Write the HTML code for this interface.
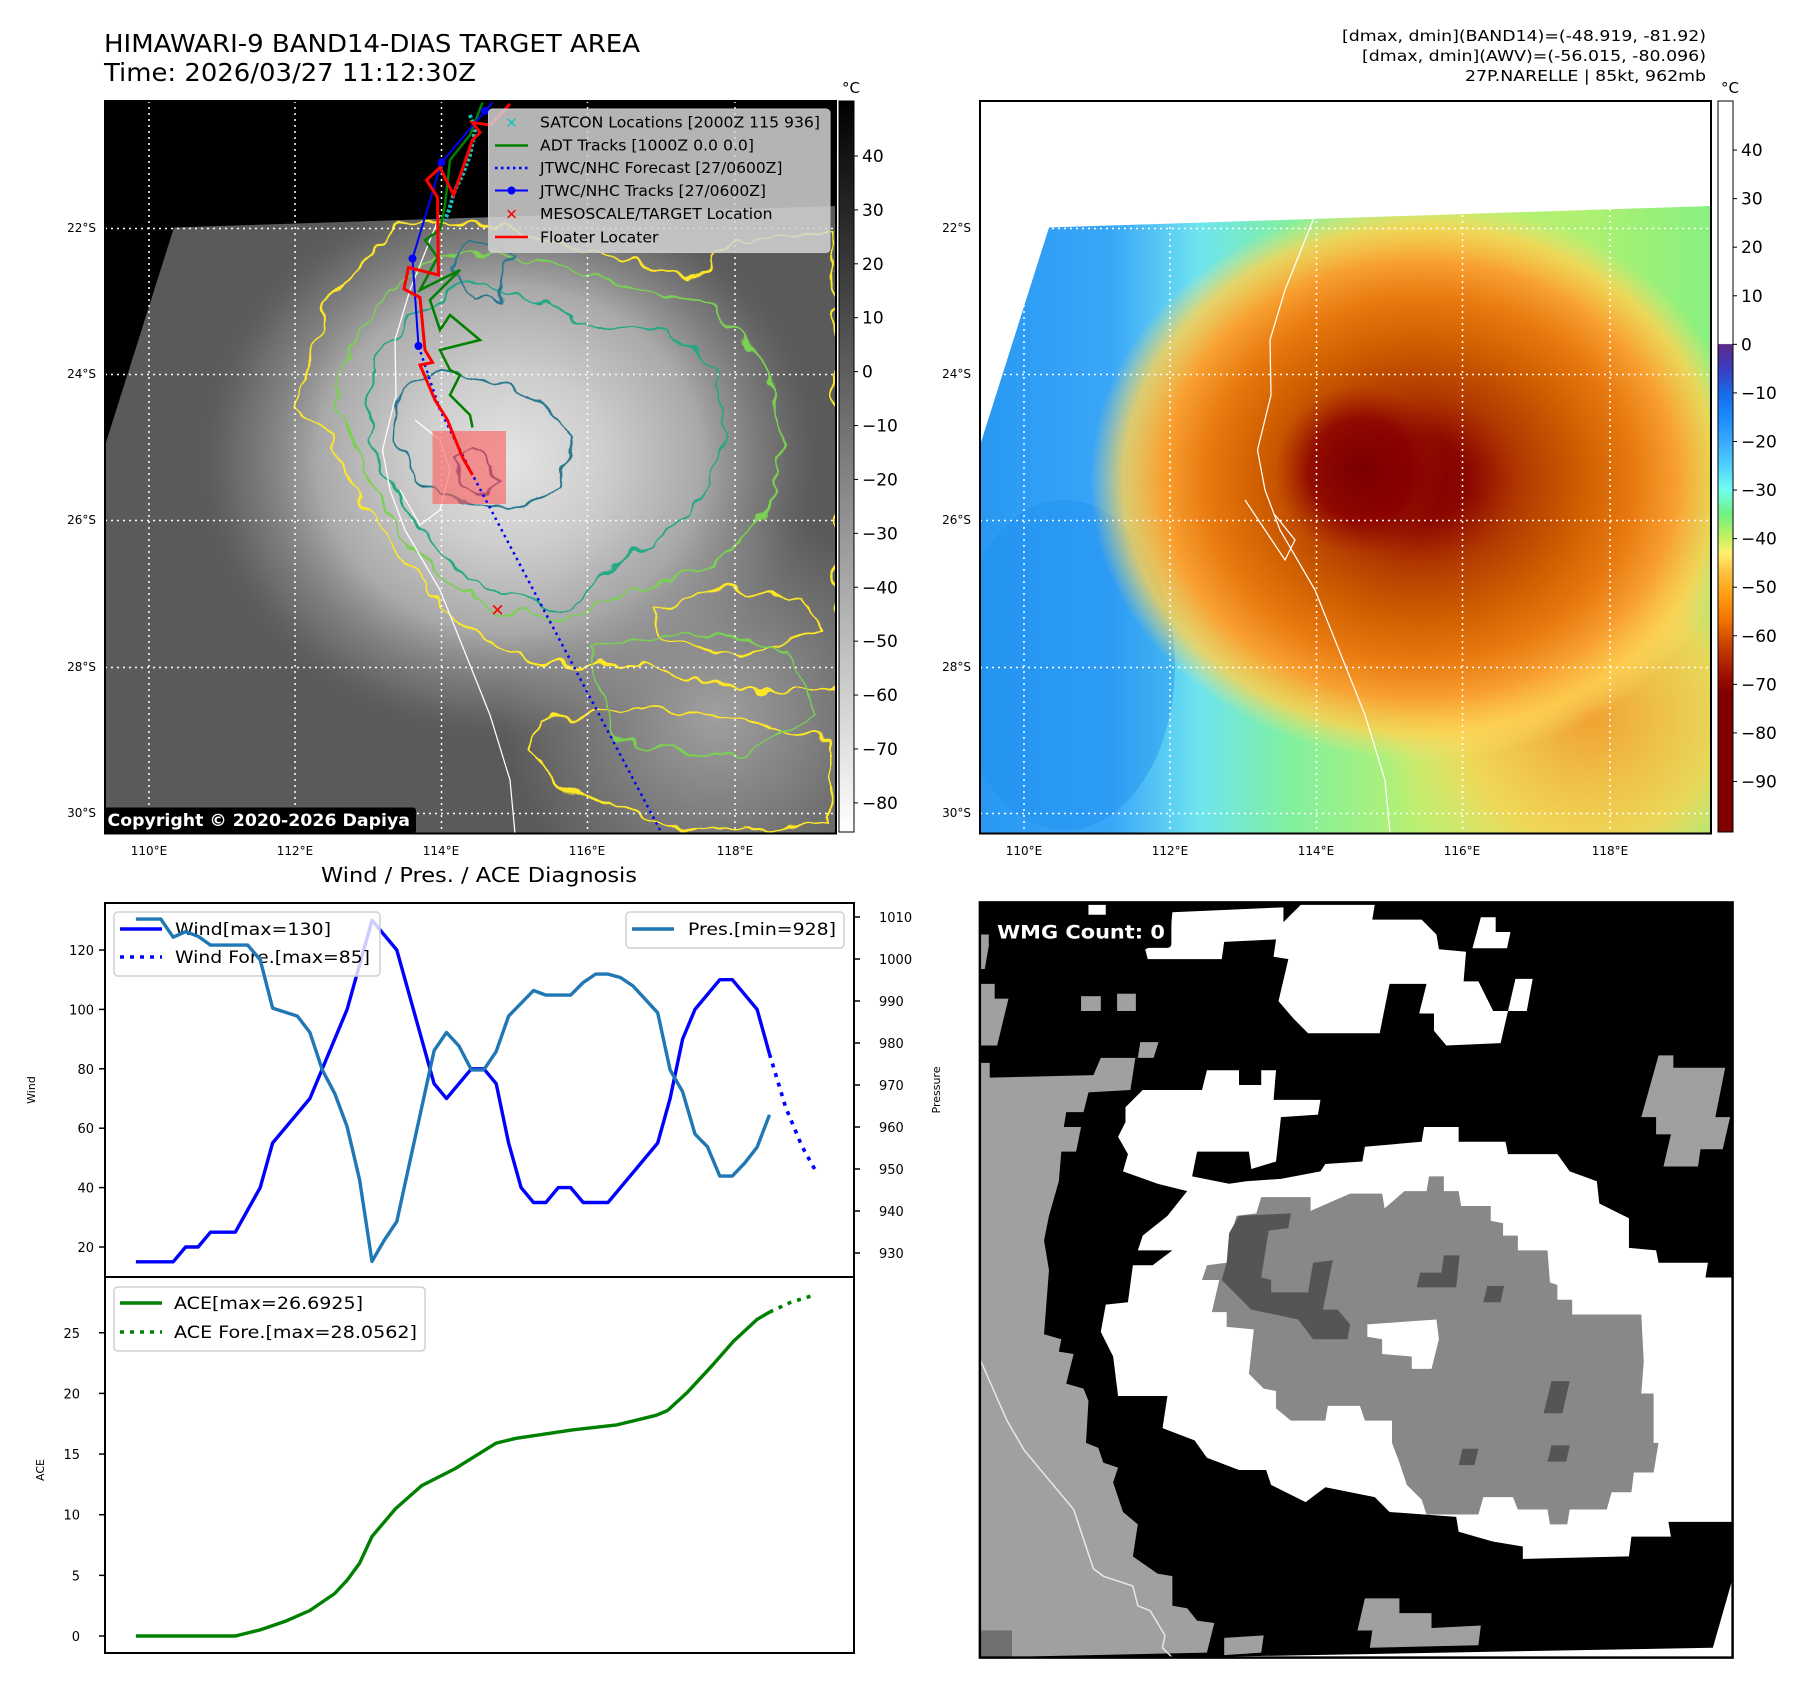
<!DOCTYPE html>
<html><head><meta charset="utf-8"><style>
html,body{margin:0;padding:0;background:#fff}
#root{position:relative;width:1797px;height:1690px;overflow:hidden;font-family:"DejaVu Sans","Liberation Sans",sans-serif}
</style></head><body>
<div id="root">
<svg id="fig" width="1797" height="1690" viewBox="0 0 1797 1690" xmlns="http://www.w3.org/2000/svg" font-family="DejaVu Sans, Liberation Sans, sans-serif">
<defs>
  <linearGradient id="cbGray" x1="0" y1="0" x2="0" y2="1"><stop offset="0" stop-color="#000"/><stop offset="1" stop-color="#fff"/></linearGradient>
  <linearGradient id="cbColor" x1="0" y1="0" x2="0" y2="1">
    <stop offset="0" stop-color="#fff"/><stop offset="0.332" stop-color="#fff"/>
    <stop offset="0.333" stop-color="#5b2a86"/><stop offset="0.366" stop-color="#3c3cc0"/>
    <stop offset="0.40" stop-color="#1a6ae8"/><stop offset="0.433" stop-color="#1a8cff"/>
    <stop offset="0.466" stop-color="#3aa8ff"/><stop offset="0.499" stop-color="#50d0ff"/>
    <stop offset="0.532" stop-color="#70fff0"/><stop offset="0.565" stop-color="#70f080"/>
    <stop offset="0.599" stop-color="#c8f060"/><stop offset="0.619" stop-color="#fff070"/>
    <stop offset="0.645" stop-color="#ffc040"/><stop offset="0.678" stop-color="#ff9a10"/>
    <stop offset="0.712" stop-color="#f07000"/><stop offset="0.745" stop-color="#c84000"/>
    <stop offset="0.785" stop-color="#a01000"/><stop offset="0.811" stop-color="#800000"/>
    <stop offset="1" stop-color="#800000"/>
  </linearGradient>
  <radialGradient id="stormGray" cx="840" cy="740" r="640" gradientUnits="userSpaceOnUse" gradientTransform="translate(840 740) scale(1 0.9) translate(-840 -740)">
    <stop offset="0" stop-color="#e4e4e4"/><stop offset="0.3" stop-color="#cdcdcd"/>
    <stop offset="0.6" stop-color="#a9a9a9"/><stop offset="0.85" stop-color="#7a7a7a" stop-opacity="0.6"/>
    <stop offset="1" stop-color="#5a5a5a" stop-opacity="0"/>
  </radialGradient>
  <radialGradient id="seGray" cx="1250" cy="1250" r="420" gradientUnits="userSpaceOnUse">
    <stop offset="0" stop-color="#a0a0a0"/><stop offset="1" stop-color="#a0a0a0" stop-opacity="0"/>
  </radialGradient>
  <linearGradient id="irBase" x1="30" y1="0" x2="1492" y2="0" gradientUnits="userSpaceOnUse">
    <stop offset="0" stop-color="#2898f2"/><stop offset="0.18" stop-color="#3aa6f8"/>
    <stop offset="0.3" stop-color="#6ee4f0"/><stop offset="0.42" stop-color="#80f0a0"/>
    <stop offset="0.6" stop-color="#b8f070"/><stop offset="0.82" stop-color="#b0f070"/>
    <stop offset="1" stop-color="#88f080"/>
  </linearGradient>
  <radialGradient id="irStorm" cx="910" cy="780" r="660" gradientUnits="userSpaceOnUse" gradientTransform="translate(910 780) scale(1 0.85) translate(-910 -780)">
    <stop offset="0" stop-color="#800000"/><stop offset="0.15" stop-color="#8a0800"/>
    <stop offset="0.3" stop-color="#b03800"/><stop offset="0.5" stop-color="#d06000"/>
    <stop offset="0.65" stop-color="#e87a10"/><stop offset="0.78" stop-color="#f8a030"/>
    <stop offset="0.9" stop-color="#ffd050" stop-opacity="0.8"/>
    <stop offset="1" stop-color="#ffe070" stop-opacity="0"/>
  </radialGradient>
  <radialGradient id="irSE" cx="1250" cy="1250" r="420" gradientUnits="userSpaceOnUse">
    <stop offset="0" stop-color="#f0a030"/><stop offset="0.6" stop-color="#ffd050" stop-opacity="0.8"/><stop offset="1" stop-color="#ffe070" stop-opacity="0"/>
  </radialGradient>
  <radialGradient id="irCore" cx="790" cy="760" r="170" gradientUnits="userSpaceOnUse">
    <stop offset="0" stop-color="#7a0000"/><stop offset="0.6" stop-color="#8a0000" stop-opacity="0.8"/><stop offset="1" stop-color="#a02000" stop-opacity="0"/>
  </radialGradient>
  <filter id="wiggle" x="-5%" y="-5%" width="110%" height="110%">
    <feTurbulence type="fractalNoise" baseFrequency="0.02" numOctaves="2" seed="3"/>
    <feDisplacementMap in="SourceGraphic" scale="40" xChannelSelector="R" yChannelSelector="G"/>
  </filter>
  <clipPath id="frameClip"><rect x="30" y="22" width="1462" height="1465"/></clipPath>
</defs>

<text x="104" y="52" font-size="25" textLength="536" lengthAdjust="spacingAndGlyphs">HIMAWARI-9 BAND14-DIAS TARGET AREA</text>
<text x="104" y="81" font-size="25" textLength="372" lengthAdjust="spacingAndGlyphs">Time: 2026/03/27 11:12:30Z</text>
<g font-size="15" text-anchor="end">
  <text x="1706" y="41" textLength="364" lengthAdjust="spacingAndGlyphs">[dmax, dmin](BAND14)=(-48.919, -81.92)</text>
  <text x="1706" y="61" textLength="344" lengthAdjust="spacingAndGlyphs">[dmax, dmin](AWV)=(-56.015, -80.096)</text>
  <text x="1706" y="81" textLength="241" lengthAdjust="spacingAndGlyphs">27P.NARELLE | 85kt, 962mb</text>
</g>

<svg x="90" y="90" width="780" height="780" viewBox="0 0 1560 1560">
  <g clip-path="url(#frameClip)">
    <rect x="30" y="22" width="1462" height="1465" fill="#000"/>
    <polygon points="168,275 1492,232 1492,1487 30,1487 30,711" fill="#5a5a5a"/>
    <g clip-path="url(#frameClip)">
      <polygon points="168,275 1492,232 1492,1487 30,1487 30,711" fill="url(#stormGray)"/>
      <polygon points="168,275 1492,232 1492,1487 30,1487 30,711" fill="url(#seGray)"/>
    </g>
    <g fill="none" stroke-width="4" filter="url(#wiggle)">
      <polygon stroke="#fde725" points="470,430 560,330 620,270 760,260 900,300 1050,330 1200,380 1300,300 1480,280 1495,650 1495,1200 1300,1200 1100,1150 900,1150 750,1080 650,960 560,850 480,700 410,640 440,540"/>
      <polygon stroke="#fde725" points="900,1260 1100,1230 1300,1260 1480,1300 1480,1470 1200,1480 950,1400 880,1320"/>
      <polygon stroke="#fde725" points="1120,1040 1250,1000 1420,1010 1460,1080 1300,1130 1140,1100"/>
      <polygon stroke="#7ad151" points="520,520 600,400 700,330 900,340 1100,400 1250,440 1350,550 1390,700 1350,850 1250,950 1100,1000 950,1060 800,1040 680,950 600,850 530,720 490,620"/>
      <polygon stroke="#7ad151" points="1000,1120 1200,1080 1400,1120 1450,1250 1300,1330 1050,1300"/>
      <polygon stroke="#22a884" points="560,560 640,450 760,380 900,420 1000,470 1150,470 1250,560 1270,700 1200,850 1050,950 950,1040 800,1000 690,920 620,820 560,700"/>
      <polygon stroke="#2a788e" points="620,600 700,560 800,580 900,620 960,700 940,790 880,820 820,830 730,820 650,780 610,700"/>
      <polygon stroke="#2a788e" points="760,300 840,330 820,420 760,420 730,350"/>
      <polygon stroke="#414487" points="730,740 760,728 800,752 822,790 790,802 750,792"/>
    </g>
    <g fill="none" stroke="#fff" stroke-width="2.5">
      <polyline points="700,250 680,300 640,400 610,500 612,610 585,720 600,800 630,880 700,1000 760,1150 800,1250 840,1380 850,1487"/>
      <polyline points="650,660 700,700 720,760 700,840 660,870 620,800"/>
    </g>
    <g stroke="#fff" stroke-width="3" stroke-dasharray="4 8">
      <line x1="118" y1="22" x2="118" y2="1487"/><line x1="410" y1="22" x2="410" y2="1487"/><line x1="703" y1="22" x2="703" y2="1487"/><line x1="995" y1="22" x2="995" y2="1487"/><line x1="1290" y1="22" x2="1290" y2="1487"/>
      <line x1="30" y1="277" x2="1492" y2="277"/><line x1="30" y1="569" x2="1492" y2="569"/><line x1="30" y1="861" x2="1492" y2="861"/><line x1="30" y1="1155" x2="1492" y2="1155"/><line x1="30" y1="1447" x2="1492" y2="1447"/>
    </g>
    <rect x="685" y="682" width="147" height="146" fill="#ff5a5a" opacity="0.6"/>
    <polyline points="760,50 770,80 760,130 745,170 730,200 718,240 710,260" fill="none" stroke="#17c3c3" stroke-width="8" stroke-dasharray="6 4"/>
    <polyline points="785,25 760,90 720,140 710,230 700,280 670,300 695,335 660,400 740,360 680,420 700,480 720,450 780,500 700,520 720,560 740,570 720,610 760,650 765,675" fill="none" stroke="#008000" stroke-width="5"/>
    <polyline points="657,512 700,640 760,760 1140,1480" fill="none" stroke="#0000ff" stroke-width="5" stroke-dasharray="5 8"/>
    <polyline points="805,25 790,42 703,145 645,337 657,512" fill="none" stroke="#0000ff" stroke-width="4"/>
    <g fill="#0000ff"><circle cx="790" cy="42" r="8"/><circle cx="703" cy="145" r="8"/><circle cx="645" cy="337" r="8"/><circle cx="657" cy="512" r="8"/></g>
    <polyline points="840,28 800,70 765,65 780,85 765,100 727,210 700,155 673,180 695,215 697,370 637,355 628,398 660,415 670,520 685,545 660,550 690,620 715,660 745,735 765,770" fill="none" stroke="#ff0000" stroke-width="6"/>
    <text x="815" y="1052" font-size="34" font-weight="bold" fill="#ff0000" text-anchor="middle">✕</text>
    <g>
      <rect x="797" y="38" width="683" height="287" rx="8" fill="#d4d4d4" fill-opacity="0.85" stroke="#c8c8c8" stroke-width="2"/>
      <text x="843" y="76" font-size="30" fill="#17c3c3" font-weight="bold" text-anchor="middle">✕</text>
      <line x1="810" y1="111" x2="876" y2="111" stroke="#008000" stroke-width="5"/>
      <line x1="810" y1="156" x2="876" y2="156" stroke="#0000ff" stroke-width="5" stroke-dasharray="5 7"/>
      <line x1="810" y1="201" x2="876" y2="201" stroke="#0000ff" stroke-width="4"/><circle cx="843" cy="201" r="8" fill="#0000ff"/>
      <text x="843" y="259" font-size="30" fill="#ff0000" font-weight="bold" text-anchor="middle">✕</text>
      <line x1="810" y1="294" x2="876" y2="294" stroke="#ff0000" stroke-width="5"/>
      <g font-size="30" fill="#000">
        <text x="900" y="75" textLength="560" lengthAdjust="spacingAndGlyphs">SATCON Locations [2000Z 115 936]</text>
        <text x="900" y="121" textLength="428" lengthAdjust="spacingAndGlyphs">ADT Tracks [1000Z 0.0 0.0]</text>
        <text x="900" y="166" textLength="485" lengthAdjust="spacingAndGlyphs">JTWC/NHC Forecast [27/0600Z]</text>
        <text x="900" y="212" textLength="452" lengthAdjust="spacingAndGlyphs">JTWC/NHC Tracks [27/0600Z]</text>
        <text x="900" y="258" textLength="465" lengthAdjust="spacingAndGlyphs">MESOSCALE/TARGET Location</text>
        <text x="900" y="305" textLength="237" lengthAdjust="spacingAndGlyphs">Floater Locater</text>
      </g>
    </g>
    <g>
      <rect x="25" y="1435" width="627" height="52" rx="6" fill="#000"/>
      <text x="35" y="1472" font-size="33" font-weight="bold" fill="#fff" textLength="605" lengthAdjust="spacingAndGlyphs">Copyright © 2020-2026 Dapiya</text>
    </g>
  </g>
  <rect x="30" y="22" width="1462" height="1465" fill="none" stroke="#000" stroke-width="4"/>
</svg>

<svg x="965" y="90" width="780" height="780" viewBox="0 0 1560 1560">
  <g clip-path="url(#frameClip)">
    <rect x="30" y="22" width="1462" height="1465" fill="#fff"/>
    <clipPath id="dataClip"><polygon points="168,275 1492,232 1492,1487 30,1487 30,711"/></clipPath>
    <g clip-path="url(#dataClip)">
      <rect x="30" y="22" width="1462" height="1465" fill="url(#irBase)"/>
      <ellipse cx="200" cy="1150" rx="220" ry="330" fill="#1e90f0" opacity="0.45"/>
      <rect x="30" y="22" width="1462" height="1465" fill="url(#irSE)"/>
      <rect x="30" y="22" width="1462" height="1465" fill="url(#irStorm)"/>
      <rect x="30" y="22" width="1462" height="1465" fill="url(#irCore)"/>
    </g>
    <g fill="none" stroke="#fff" stroke-width="2.5">
      <polyline points="700,250 680,300 640,400 610,500 612,610 585,720 600,800 630,880 700,1000 760,1150 800,1250 840,1380 850,1487"/>
      <polyline points="560,820 600,880 640,940 660,900 620,850"/>
    </g>
    <g stroke="#fff" stroke-width="3" stroke-dasharray="4 8">
      <line x1="118" y1="22" x2="118" y2="1487"/><line x1="410" y1="22" x2="410" y2="1487"/><line x1="703" y1="22" x2="703" y2="1487"/><line x1="995" y1="22" x2="995" y2="1487"/><line x1="1290" y1="22" x2="1290" y2="1487"/>
      <line x1="30" y1="277" x2="1492" y2="277"/><line x1="30" y1="569" x2="1492" y2="569"/><line x1="30" y1="861" x2="1492" y2="861"/><line x1="30" y1="1155" x2="1492" y2="1155"/><line x1="30" y1="1447" x2="1492" y2="1447"/>
    </g>
  </g>
  <rect x="30" y="22" width="1462" height="1465" fill="none" stroke="#000" stroke-width="4"/>
</svg>

<g font-size="12" text-anchor="end" fill="#000">
  <text x="96" y="232">22°S</text><text x="96" y="378">24°S</text><text x="96" y="524">26°S</text><text x="96" y="671">28°S</text><text x="96" y="817">30°S</text>
  <text x="971" y="232">22°S</text><text x="971" y="378">24°S</text><text x="971" y="524">26°S</text><text x="971" y="671">28°S</text><text x="971" y="817">30°S</text>
</g>
<g font-size="12" text-anchor="middle" fill="#000">
  <text x="149" y="855">110°E</text><text x="295" y="855">112°E</text><text x="441" y="855">114°E</text><text x="587" y="855">116°E</text><text x="735" y="855">118°E</text>
  <text x="1024" y="855">110°E</text><text x="1170" y="855">112°E</text><text x="1316" y="855">114°E</text><text x="1462" y="855">116°E</text><text x="1610" y="855">118°E</text>
</g>

<rect x="839" y="101" width="15" height="731" fill="url(#cbGray)" stroke="#000" stroke-width="1"/>
<rect x="1718" y="101" width="15" height="731" fill="url(#cbColor)" stroke="#000" stroke-width="1"/>
<text x="851" y="93" font-size="15" text-anchor="middle">°C</text>
<text x="1730" y="93" font-size="15" text-anchor="middle">°C</text>
<g id="cbTicks" font-size="17" fill="#000"></g>

<text x="479" y="882" font-size="20" text-anchor="middle" textLength="316" lengthAdjust="spacingAndGlyphs">Wind / Pres. / ACE Diagnosis</text>
<g id="chart"></g>
<rect x="105" y="903" width="749" height="374" fill="none" stroke="#000" stroke-width="2"/>
<rect x="105" y="1277" width="749" height="376" fill="none" stroke="#000" stroke-width="2"/>

<svg x="970" y="895" width="770" height="770" viewBox="0 0 1560 1560">
  <rect x="20" y="15" width="1525" height="1530" fill="#000"/>
  <polygon points="410,1545 1505,1525 1545,1385 1545,1545" fill="#fff"/>
  <g fill="#a0a0a0">
    <polygon points="20,340 40,340 40,370 250,365 265,330 335,330 325,395 240,400 230,440 195,440 190,470 225,470 215,520 185,520 180,580 160,650 150,700 160,760 150,890 185,900 180,925 210,930 195,990 230,1000 240,1025 235,1110 260,1120 270,1150 300,1160 290,1190 310,1250 340,1275 330,1340 380,1375 410,1380 410,1440 440,1445 460,1470 495,1475 480,1535 20,1545"/>
    <polygon points="20,180 50,180 50,210 78,210 55,305 20,305"/>
    <polygon points="20,80 42,80 30,150 20,150"/>
    <rect x="225" y="205" width="40" height="30"/><rect x="298" y="200" width="38" height="35"/>
    <polygon points="345,298 382,298 372,330 340,330"/>
    <polygon points="1395,325 1425,325 1425,350 1530,350 1510,450 1540,450 1525,515 1480,515 1475,550 1405,550 1420,485 1390,485 1390,450 1360,450"/>
    <polygon points="800,1425 870,1425 870,1455 935,1455 935,1485 1035,1480 1030,1520 810,1525 815,1490 785,1490"/>
    <polygon points="515,1505 595,1500 590,1535 515,1540"/>
    <polygon points="1415,1175 1490,1170 1480,1205 1408,1205"/>
  </g>
  <rect x="20" y="1490" width="65" height="55" fill="#707070"/>
  <g fill="#fff">
    <polygon points="315,430 350,395 470,395 480,355 545,355 545,385 590,385 590,355 620,355 615,415 710,415 705,445 630,450 620,540 570,555 565,520 460,520 450,570 525,585 560,580 630,575 710,560 720,545 795,540 800,510 915,500 920,470 990,470 990,500 1085,500 1090,525 1190,525 1215,560 1270,580 1275,625 1335,655 1335,715 1390,720 1395,745 1495,745 1490,775 1545,775 1545,1270 1415,1270 1420,1300 1340,1300 1335,1340 1120,1345 1120,1320 1060,1310 990,1290 985,1260 920,1255 850,1250 820,1220 720,1200 680,1230 610,1195 600,1165 545,1165 480,1140 455,1105 390,1080 400,1015 300,1015 290,935 265,885 275,830 320,825 330,750 370,750 410,720 340,720 350,690 400,650 440,600 380,585 310,560 320,525 300,490 315,460"/>
    <polygon points="410,35 635,25 635,55 670,20 820,20 815,50 915,50 945,80 950,110 1005,115 1000,175 1030,175 1060,235 1090,235 1075,300 965,305 940,275 940,240 910,240 925,180 850,180 830,280 685,280 655,250 625,215 645,130 615,125 620,90 515,95 510,130 360,130 355,110 405,90"/>
    <polygon points="1035,45 1065,45 1065,75 1095,75 1088,108 1018,108"/>
    <polygon points="1105,170 1140,170 1128,235 1090,235"/>
    <rect x="240" y="20" width="35" height="20"/>
  </g>
  <g>
    <polygon fill="#888" points="590,612 690,612 690,640 770,605 835,605 840,635 880,600 925,600 930,570 960,570 960,600 990,600 995,630 1055,630 1055,660 1080,665 1080,690 1110,690 1110,720 1170,720 1175,785 1190,790 1190,820 1220,820 1220,850 1360,850 1365,945 1360,1010 1385,1010 1385,1110 1395,1110 1385,1170 1345,1170 1340,1210 1300,1210 1290,1245 1215,1245 1210,1275 1175,1275 1170,1245 1110,1245 1100,1220 1040,1220 1030,1255 925,1255 915,1225 885,1195 870,1150 855,1110 855,1065 800,1065 790,1035 725,1035 720,1065 650,1065 620,1040 620,1005 595,1000 565,970 575,880 520,875 520,845 490,845 505,780 470,780 480,750 520,745 530,685 540,650 580,645"/>
    <polygon fill="#fff" points="805,870 945,860 950,900 935,960 895,960 895,935 835,930 835,900 805,895"/>
    <polygon fill="#555" points="545,650 650,645 645,675 605,680 590,775 610,780 610,805 685,805 695,745 735,740 715,840 745,840 770,870 765,900 695,900 665,860 570,840 540,810 510,780 520,745 525,685"/>
    <g fill="#555"><polygon points="960,730 992,730 985,795 905,795 912,765 955,765"/><polygon points="1048,792 1082,792 1075,825 1040,825"/><polygon points="1178,985 1215,985 1200,1050 1162,1050"/><polygon points="998,1122 1030,1122 1022,1155 990,1155"/><polygon points="1178,1115 1215,1115 1208,1148 1170,1148"/></g>
  </g>
  <polyline points="20,940 75,1065 110,1125 210,1245 250,1365 270,1380 330,1400 340,1440 365,1450 395,1500 390,1525 410,1545" fill="none" stroke="#e8e8e8" stroke-width="3"/>
  <rect x="38" y="45" width="370" height="62" rx="8" fill="#000"/>
  <text x="55" y="88" font-size="38" font-weight="bold" fill="#fff" textLength="340" lengthAdjust="spacingAndGlyphs">WMG Count: 0</text>
  <rect x="20" y="15" width="1525" height="1530" fill="none" stroke="#000" stroke-width="5"/>
</svg>
</svg>
</div>
<script>
const windT = [0,3,4,5,6,8,10,11,14,17,19,21,24,25,27,28,29,30,31,32,33,34,35,36,38,42,43,44,45,47,48,50,51];
const windV = [15,15,20,20,25,25,40,55,70,100,130,120,75,70,80,80,75,55,40,35,35,40,40,35,35,55,70,90,100,110,110,100,85];
const windForeT = [51,52.3,53.6,54.8];
const windForeV = [85,67,54,45];
const presT = [0,2,3,4,5,6,9,10,11,13,14,15,16,17,18,19,20,21,24,25,26,27,28,29,30,32,33,35,36,37,38,39,40,42,43,44,45,46,47,48,49,50,51];
const presV = [1009.5,1009.5,1005.2,1006.5,1005.4,1003.3,1003.3,999.8,988.3,986.4,982.5,973.6,968,960.1,947.4,928,933.1,937.5,978.2,982.5,979.3,973.6,973.6,978,986.4,992.5,991.4,991.4,994.4,996.4,996.4,995.6,993.6,987.2,973.6,968.4,958.3,955.3,948.3,948.3,951.4,955.2,962.9];
const aceT = [0,8,10,12,14,16,17,18,19,20.9,23,25.7,29,30.6,35.2,38.7,41.9,42.8,44.4,46.3,48.1,50,51];
const aceV = [0,0,0.5,1.2,2.1,3.5,4.6,6.0,8.2,10.5,12.4,13.8,15.9,16.3,17.0,17.4,18.2,18.6,20.1,22.2,24.3,26.1,26.7];
const aceForeT = [51,52.7,54.4];
const aceForeV = [26.7,27.5,28.05];
const windTicks = [20,40,60,80,100,120];
const presTicks = [930,940,950,960,970,980,990,1000,1010];
const aceTicks = [0,5,10,15,20,25];
const btTicks = [40,30,20,10,0,-10,-20,-30,-40,-50,-60,-70,-80];
const irTicks = [40,30,20,10,0,-10,-20,-30,-40,-50,-60,-70,-80,-90];

const X0=105, X1=854, TMIN=-2.49, TMAX=57.8;
function xs(t){return X0+(t-TMIN)/(TMAX-TMIN)*(X1-X0);}
function yWind(v){return 950+(120-v)*2.97;}
function yPres(p){return 917+(1010-p)*4.2;}
function yAce(a){return 1636-a*12.13;}
function yBt(v){return 101+(50.2-v)/(50.2+85.4)*731;}
function yIr(v){return 101+(50.1-v)/(50.1+100.4)*731;}

const NS='http://www.w3.org/2000/svg';
const chart=document.getElementById('chart');
function mk(tag,attrs,parent){const e=document.createElementNS(NS,tag);for(const k in attrs)e.setAttribute(k,attrs[k]);(parent||chart).appendChild(e);return e;}
function pts(T,V,f){return T.map((t,i)=>xs(t).toFixed(1)+','+f(V[i]).toFixed(1)).join(' ');}
function lab(x,y,txt,anchor,size,parent){const t=mk('text',{x:x,y:y,'font-size':size,'text-anchor':anchor},parent);t.textContent=txt;return t;}
function fmt(v){return v<0?'\u2212'+Math.abs(v):String(v);}

const cw=mk('clipPath',{id:'cw'});mk('rect',{x:105,y:903,width:749,height:374},cw);
const ca=mk('clipPath',{id:'ca'});mk('rect',{x:105,y:1277,width:749,height:376},ca);
const gw=mk('g',{'clip-path':'url(#cw)'});


const ga=mk('g',{'clip-path':'url(#ca)'});



const wl=mk('polyline',{points:pts(windT,windV,yWind),fill:'none',stroke:'#0000ff','stroke-width':3.4,'stroke-linejoin':'round'},gw);


const wf=mk('polyline',{points:pts(windForeT,windForeV,yWind),fill:'none',stroke:'#0000ff','stroke-width':3.6,'stroke-dasharray':'4 6'},gw);



const wlg=mk('g',{},gw);


mk('rect',{x:114,y:912,width:266,height:64,rx:4,fill:'#fff','fill-opacity':0.8,stroke:'#d0d0d0','stroke-width':1.5},wlg);
mk('line',{x1:120,y1:929,x2:162,y2:929,stroke:'#0000ff','stroke-width':3.4},wlg);
mk('line',{x1:120,y1:957,x2:162,y2:957,stroke:'#0000ff','stroke-width':3.6,'stroke-dasharray':'4 6'},wlg);
let t1=lab(175,935,'Wind[max=130]','start',17,wlg);t1.setAttribute('textLength',156);t1.setAttribute('lengthAdjust','spacingAndGlyphs');
let t2=lab(175,963,'Wind Fore.[max=85]','start',17,wlg);t2.setAttribute('textLength',195);t2.setAttribute('lengthAdjust','spacingAndGlyphs');

const pl=mk('polyline',{points:pts(presT,presV,yPres),fill:'none',stroke:'#1f77b4','stroke-width':3.4,'stroke-linejoin':'round'},gw);



const plg=mk('g',{},gw);


mk('rect',{x:626,y:912,width:218,height:36,rx:4,fill:'#fff','fill-opacity':0.8,stroke:'#d0d0d0','stroke-width':1.5},plg);
mk('line',{x1:632,y1:929,x2:674,y2:929,stroke:'#1f77b4','stroke-width':3.4},plg);
let t3=lab(688,935,'Pres.[min=928]','start',17,plg);t3.setAttribute('textLength',148);t3.setAttribute('lengthAdjust','spacingAndGlyphs');

const al=mk('polyline',{points:pts(aceT,aceV,yAce),fill:'none',stroke:'#008000','stroke-width':3.4,'stroke-linejoin':'round'},ga);


const af=mk('polyline',{points:pts(aceForeT,aceForeV,yAce),fill:'none',stroke:'#008000','stroke-width':3.6,'stroke-dasharray':'4 6'},ga);


const alg=mk('g',{},ga);


mk('rect',{x:114,y:1287,width:311,height:64,rx:4,fill:'#fff','fill-opacity':0.8,stroke:'#d0d0d0','stroke-width':1.5},alg);
mk('line',{x1:120,y1:1303,x2:162,y2:1303,stroke:'#008000','stroke-width':3.4},alg);
mk('line',{x1:120,y1:1332,x2:162,y2:1332,stroke:'#008000','stroke-width':3.6,'stroke-dasharray':'4 6'},alg);
let t4=lab(174,1309,'ACE[max=26.6925]','start',17,alg);t4.setAttribute('textLength',189);t4.setAttribute('lengthAdjust','spacingAndGlyphs');
let t5=lab(174,1338,'ACE Fore.[max=28.0562]','start',17,alg);t5.setAttribute('textLength',243);t5.setAttribute('lengthAdjust','spacingAndGlyphs');

windTicks.forEach(v=>{const y=yWind(v);mk('line',{x1:99,y1:y,x2:105,y2:y,stroke:'#000','stroke-width':1.5});const t=lab(94,y+5,String(v),'end',13);});
presTicks.forEach(v=>{const y=yPres(v);mk('line',{x1:854,y1:y,x2:860,y2:y,stroke:'#000','stroke-width':1.5});const t=lab(879,y+5,String(v),'start',13);});
aceTicks.forEach(v=>{const y=yAce(v);mk('line',{x1:99,y1:y,x2:105,y2:y,stroke:'#000','stroke-width':1.5});const t=lab(80,y+5,String(v),'end',13);});
const wyl=lab(0,0,'Wind','middle',11);wyl.setAttribute('transform','translate(35 1090) rotate(-90)');


const pyl=lab(0,0,'Pressure','middle',11);pyl.setAttribute('transform','translate(940 1090) rotate(-90)');


const ayl=lab(0,0,'ACE','middle',11);ayl.setAttribute('transform','translate(44 1470) rotate(-90)');



const cbg=document.getElementById('cbTicks');
btTicks.forEach(v=>{const y=yBt(v);mk('line',{x1:854,y1:y,x2:858,y2:y,stroke:'#000'},cbg);const t=lab(862,y+6,fmt(v),'start',17,cbg);});
irTicks.forEach(v=>{const y=yIr(v);mk('line',{x1:1733,y1:y,x2:1737,y2:y,stroke:'#000'},cbg);const t=lab(1741,y+6,fmt(v),'start',17,cbg);});
</script>
</body></html>
